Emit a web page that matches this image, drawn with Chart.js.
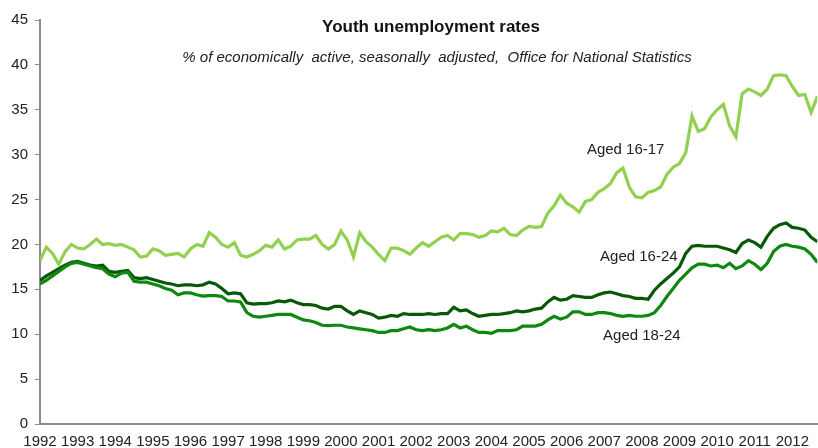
<!DOCTYPE html>
<html>
<head>
<meta charset="utf-8">
<script src="https://cdn.jsdelivr.net/npm/chart.js@4"></script>
<style>
  body { margin: 0; background: #fff; }
</style>
</head>
<body>
<canvas id="youthChart" width="818" height="448"></canvas>
<script>
// bi-monthly readings, starting Jan 1992
var startYear = 1992;
var stepsPerYear = 6;

var aged1617 = [
  18.2, 19.7, 19.0, 17.8, 19.2, 20.0, 19.6, 19.5, 20.0, 20.6, 20.0, 20.1,
  19.9, 20.0, 19.7, 19.4, 18.6, 18.7, 19.5, 19.3, 18.8, 18.9, 19.0, 18.6,
  19.5, 20.0, 19.8, 21.3, 20.8, 20.0, 19.7, 20.2, 18.8, 18.6, 18.9, 19.3,
  19.9, 19.7, 20.5, 19.5, 19.8, 20.5, 20.6, 20.6, 21.0, 20.0, 19.5, 20.0,
  21.5, 20.5, 18.6, 21.3, 20.3, 19.7, 18.9, 18.2, 19.6, 19.6, 19.3, 18.9,
  19.6, 20.2, 19.8, 20.3, 20.8, 21.0, 20.5, 21.2, 21.2, 21.1, 20.8, 21.0,
  21.5, 21.4, 21.8, 21.1, 21.0, 21.6, 22.0, 21.9, 22.0, 23.5, 24.3, 25.5,
  24.6, 24.2, 23.6, 24.8, 25.0, 25.8, 26.2, 26.8, 28.0, 28.5, 26.4, 25.3,
  25.2, 25.8, 26.0, 26.4, 27.8, 28.6, 29.0, 30.2, 34.3, 32.6, 32.9, 34.2,
  35.0, 35.6, 33.2, 32.0, 36.8, 37.3, 37.0, 36.6, 37.3, 38.8, 38.9, 38.8,
  37.6, 36.6, 36.7, 34.7, 36.5
];

var aged1624 = [
  16.0, 16.5, 16.9, 17.3, 17.7, 18.0, 18.1, 17.9, 17.7, 17.6, 17.7, 17.0,
  16.9, 17.0, 17.1, 16.3, 16.2, 16.3, 16.1, 15.9, 15.7, 15.6, 15.4, 15.5,
  15.5, 15.4, 15.5, 15.8, 15.6, 15.1, 14.5, 14.6, 14.5, 13.5, 13.35, 13.4,
  13.4, 13.5, 13.7, 13.6, 13.8, 13.5, 13.3, 13.3, 13.2, 12.9, 12.8, 13.1,
  13.1, 12.6, 12.2, 12.6, 12.4, 12.2, 11.8, 11.9, 12.1, 12.0, 12.3, 12.2,
  12.2, 12.2, 12.3, 12.2, 12.3, 12.3, 13.0, 12.6, 12.7, 12.3, 12.0, 12.1,
  12.2, 12.2, 12.3, 12.4, 12.6, 12.5, 12.6, 12.8, 12.9, 13.6, 14.1, 13.8,
  13.9, 14.3, 14.2, 14.1, 14.1, 14.4, 14.6, 14.7, 14.5, 14.3, 14.2, 14.0,
  14.0, 13.9, 14.9, 15.6, 16.2, 16.8, 17.5, 19.0, 19.8, 19.9, 19.8, 19.8,
  19.8, 19.6, 19.4, 19.1, 20.1, 20.5, 20.2, 19.7, 20.9, 21.8, 22.2, 22.4,
  21.9, 21.8, 21.6, 20.8, 20.3
];

var aged1824 = [
  15.6, 16.0, 16.5, 17.0, 17.5, 17.9, 18.0, 17.8, 17.6, 17.4, 17.3, 16.7,
  16.4, 16.8, 16.9, 15.9, 15.8, 15.8, 15.6, 15.4, 15.1, 14.9, 14.4, 14.6,
  14.6, 14.4, 14.25, 14.3, 14.3, 14.2, 13.7, 13.7, 13.6, 12.4, 12.0, 11.9,
  12.0, 12.1, 12.2, 12.2, 12.2, 11.9, 11.6, 11.5, 11.3, 11.0, 10.95, 11.0,
  11.0, 10.8, 10.7, 10.6, 10.5, 10.4, 10.2, 10.2, 10.4, 10.4, 10.6, 10.8,
  10.5, 10.4, 10.5, 10.4, 10.5, 10.7, 11.1, 10.7, 10.9, 10.5, 10.2, 10.2,
  10.1, 10.4, 10.4, 10.4, 10.5, 10.9, 10.9, 10.9, 11.1, 11.6, 12.0, 11.7,
  11.9, 12.5, 12.5, 12.2, 12.2, 12.4, 12.4, 12.3, 12.1, 12.0, 12.1, 12.0,
  12.0, 12.1, 12.4, 13.2, 14.2, 15.1, 16.0, 16.7, 17.4, 17.8, 17.8, 17.6,
  17.7, 17.4, 17.9, 17.3, 17.6, 18.2, 17.8, 17.2, 17.9, 19.2, 19.8, 20.0,
  19.8, 19.7, 19.5, 18.9, 18.0
];

var yTicks = [0, 5, 10, 15, 20, 25, 30, 35, 40, 45];

var seriesNames = ['Aged 16-17', 'Aged 16-24', 'Aged 18-24'];
// where each series name sits: [year, value]
var nameYears = [2007.57, 2007.92, 2008.0];
var nameValues = [30.5, 18.6, 9.8];

var titleText = 'Youth unemployment rates';
var subtitleText = '% of economically  active, seasonally  adjusted,  Office for National Statistics';

function toPoints(values) {
  return values.map(function (v, i) {
    return { x: startYear + i / stepsPerYear, y: v };
  });
}

var lastX = startYear + (aged1617.length - 1) / stepsPerYear;

var textPlugin = {
  id: 'chartText',
  afterDraw: function (chart) {
    var c = chart.ctx;
    var xs = chart.scales.x, ys = chart.scales.y;
    c.save();
    c.fillStyle = '#111';
    c.textAlign = 'center';
    c.textBaseline = 'middle';
    c.font = 'bold 17px "Liberation Sans", Arial, sans-serif';
    c.fillText(titleText, 431, 27);
    c.font = 'italic 15px "Liberation Sans", Arial, sans-serif';
    c.fillStyle = '#222';
    c.fillText(subtitleText, 437, 58);
    c.font = '15px "Liberation Sans", Arial, sans-serif';
    c.fillStyle = '#222';
    for (var i = 0; i < seriesNames.length; i++) {
      c.fillText(seriesNames[i], xs.getPixelForValue(nameYears[i]), ys.getPixelForValue(nameValues[i]));
    }
    c.restore();
  }
};

var ctx = document.getElementById('youthChart').getContext('2d');
var youthChart = new Chart(ctx, {
  type: 'line',
  data: {
    datasets: [
      {
        label: seriesNames[0],
        data: toPoints(aged1617),
        borderColor: 'rgb(146, 208, 80)',
        borderWidth: 3.2,
        pointRadius: 0,
        tension: 0
      },
      {
        label: seriesNames[2],
        data: toPoints(aged1824),
        borderColor: 'rgb(16, 135, 16)',
        borderWidth: 3.2,
        pointRadius: 0,
        tension: 0
      },
      {
        label: seriesNames[1],
        data: toPoints(aged1624),
        borderColor: 'rgb(8, 88, 8)',
        borderWidth: 3.2,
        pointRadius: 0,
        tension: 0
      }
    ]
  },
  options: {
    responsive: false,
    animation: false,
    layout: { padding: { top: 20, right: 0, left: 0, bottom: 0 } },
    plugins: {
      legend: { display: false },
      tooltip: { enabled: false }
    },
    scales: {
      x: {
        type: 'linear',
        min: startYear,
        max: lastX,
        afterFit: function (s) { s.height = 24; },
        grid: { display: false, drawTicks: false },
        border: { display: true, color: '#8c8c8c', width: 2 },
        ticks: {
          stepSize: 1,
          includeBounds: false,
          autoSkip: false,
          maxRotation: 0,
          padding: 9,
          color: '#222',
          font: { family: '"Liberation Sans", Arial, sans-serif', size: 15 },
          callback: function (v) { return String(v); }
        }
      },
      y: {
        min: yTicks[0],
        max: yTicks[yTicks.length - 1],
        afterFit: function (s) { s.width = 40; },
        afterBuildTicks: function (s) {
          s.ticks = yTicks.map(function (v) { return { value: v }; });
        },
        grid: { drawOnChartArea: false, drawTicks: true, tickLength: 5, color: '#8c8c8c' },
        border: { display: true, color: '#8c8c8c', width: 2 },
        ticks: {
          padding: 7,
          color: '#222',
          font: { family: '"Liberation Sans", Arial, sans-serif', size: 15 }
        }
      }
    }
  },
  plugins: [textPlugin]
});
</script>
</body>
</html>
